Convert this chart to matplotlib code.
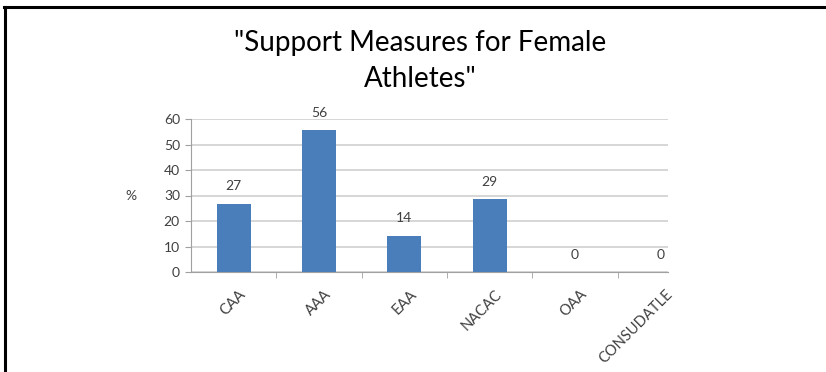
import numpy as np
import matplotlib
matplotlib.use("Agg")
import matplotlib.pyplot as plt
import matplotlib.transforms as mtransforms
from matplotlib.lines import Line2D

# data
categories = ["CAA", "AAA", "EAA", "NACAC", "OAA", "CONSUDATLE"]
values = [26.7, 55.6, 14.3, 28.6, 0, 0]
yticks = [0, 10, 20, 30, 40, 50, 60]

plt.rcParams['font.family'] = ['Lato', 'DejaVu Sans']
txt = "#404040"

fig = plt.figure(figsize=(8.26, 3.72), dpi=100)
ax = fig.add_axes([191/826, 1-272/372, (668-191)/826, (272-119)/372])

x = np.arange(len(categories))
ax.bar(x, values, width=0.4, color="#4A7EBB", zorder=3)

for xi, v in zip(x, values):
    ax.text(xi, v + 4.5, "%.0f" % v, ha="center", va="bottom", fontsize=10, color=txt)

ax.set_yticks(yticks)
ax.yaxis.grid(True, color="#cfcfcf", linewidth=1.2, zorder=0)
ax.set_axisbelow(True)

ax.set_xticks(x)
ax.set_xticklabels(categories, rotation=45, ha="right", va="top", rotation_mode="anchor")
ax.set_xticks(np.arange(len(categories) - 1) + 0.5, minor=True)
ax.tick_params(axis="x", which="major", length=0, pad=11, labelsize=10.5, labelcolor=txt)
ax.tick_params(axis="x", which="minor", length=4, color="#a0a0a0", direction="out")
ax.tick_params(axis="y", length=4, color="#a0a0a0", labelsize=10, labelcolor=txt, pad=4)
shift = mtransforms.ScaledTranslation(5/100, 0, fig.dpi_scale_trans)
for lab in ax.get_xticklabels():
    lab.set_transform(lab.get_transform() + shift)

# limits last, set_xticks can widen them
ax.set_ylim(0, 60)
ax.set_xlim(-0.5, 5.09)

for s in ["top", "right"]:
    ax.spines[s].set_visible(False)
ax.spines["left"].set_color("#a0a0a0")
ax.spines["bottom"].set_color("#a0a0a0")

ax.set_ylabel("%", rotation=0, fontsize=10, color=txt, va="center")
ax.yaxis.set_label_coords(-0.125, 0.5)

fig.text(420/826, 1-43/372, "\"Support Measures for Female", ha="center", va="center", fontsize=20, color="black")
fig.text(420/826, 1-79/372, "Athletes\"", ha="center", va="center", fontsize=20, color="black")

# frame lines (left and top only)
fig.add_artist(Line2D([5/826, 5/826], [0, 1-7/372], transform=fig.transFigure, color="black", linewidth=2.2))
fig.add_artist(Line2D([4/826, 1], [1-7/372, 1-7/372], transform=fig.transFigure, color="black", linewidth=2.2))

fig.savefig("out.png", dpi=100, facecolor="white")
